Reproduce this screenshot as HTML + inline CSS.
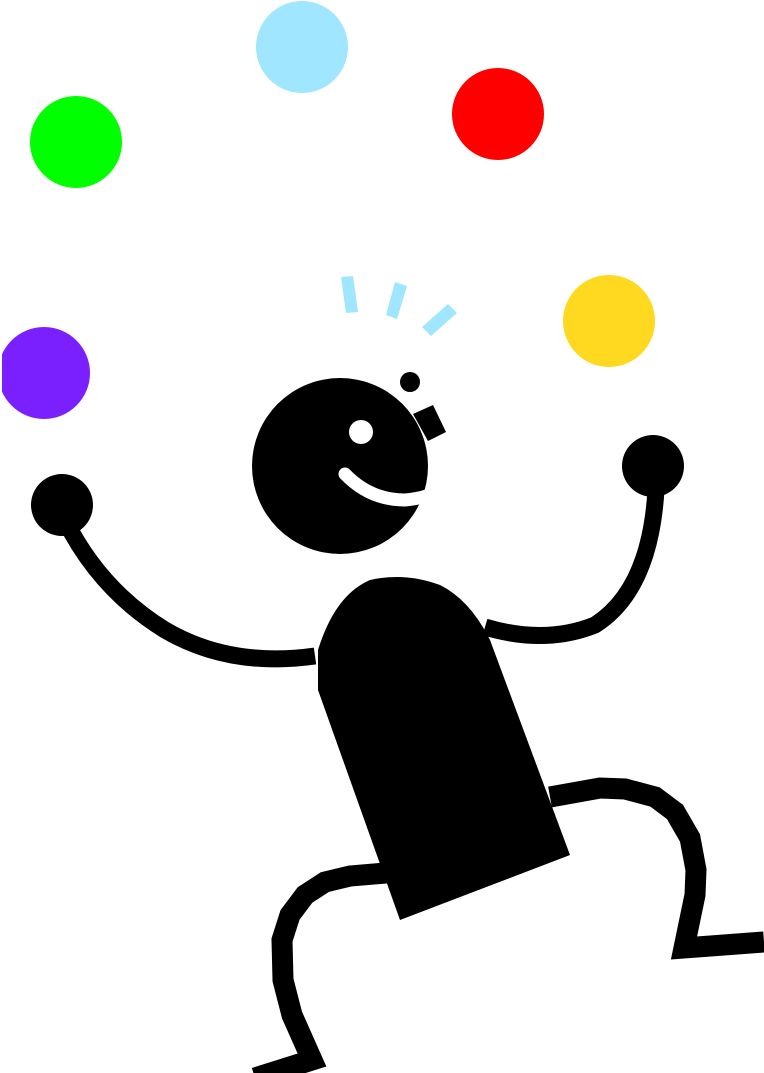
<!DOCTYPE html>
<html><head><style>html,body{margin:0;padding:0;background:#fff;}svg{display:block}</style></head>
<body>
<svg width="764" height="1073" viewBox="0 0 764 1073" xmlns="http://www.w3.org/2000/svg">
<circle cx="302" cy="47" r="46" fill="#a0e6ff"/>
<circle cx="76" cy="142" r="46" fill="#00ff00"/>
<circle cx="498" cy="114" r="46" fill="#ff0000"/>
<circle cx="609" cy="321" r="46" fill="#ffd820"/>
<circle cx="44" cy="373" r="46" fill="#7a20ff"/>
<rect x="0" y="320" width="2" height="110" fill="#fff"/>
<g fill="#a0e6ff">
<polygon points="341,277 353,276 358,312 346,313"/>
<polygon points="395,282 407,286 397,319 386,315"/>
<polygon points="448,304 457,313 431,336 422,327"/>
</g>
<g fill="#000">
<circle cx="340" cy="466" r="88"/>
<polygon points="413,414 433,405 446,432 428,441"/>
<circle cx="410" cy="382" r="10"/>
<path d="M318,690 L400,920 L570,855 L490,640 Q470,600 440,585 Q405,572 370,580 Q335,595 318,650 Z"/>
<circle cx="62" cy="505" r="31"/>
<circle cx="653" cy="466" r="31"/>
</g>
<circle cx="361" cy="432" r="12" fill="#fff"/>
<path d="M345,474 Q370,500 405,500 Q425,498 432,493" stroke="#fff" stroke-width="13" fill="none" stroke-linecap="round"/>
<g fill="none" stroke="#000" stroke-width="17" stroke-linejoin="round">
<path d="M65,520 Q100,590 165,630 Q230,668 315,656"/>
<path d="M656,490 Q650,590 595,625 Q545,645 485,627"/>
</g>
<g fill="none" stroke="#000" stroke-width="21" stroke-linejoin="miter">
<path d="M550,797 L600,788 L625,789 L655,797 L675,812 L690,838 L696,870 L695,895 L684,948 L764,942"/>
<path d="M386,873 L350,876 L325,882 L305,895 L290,915 L282,940 L283,980 L292,1015 L312,1060 L255,1078"/>
</g>
</svg>
</body></html>
